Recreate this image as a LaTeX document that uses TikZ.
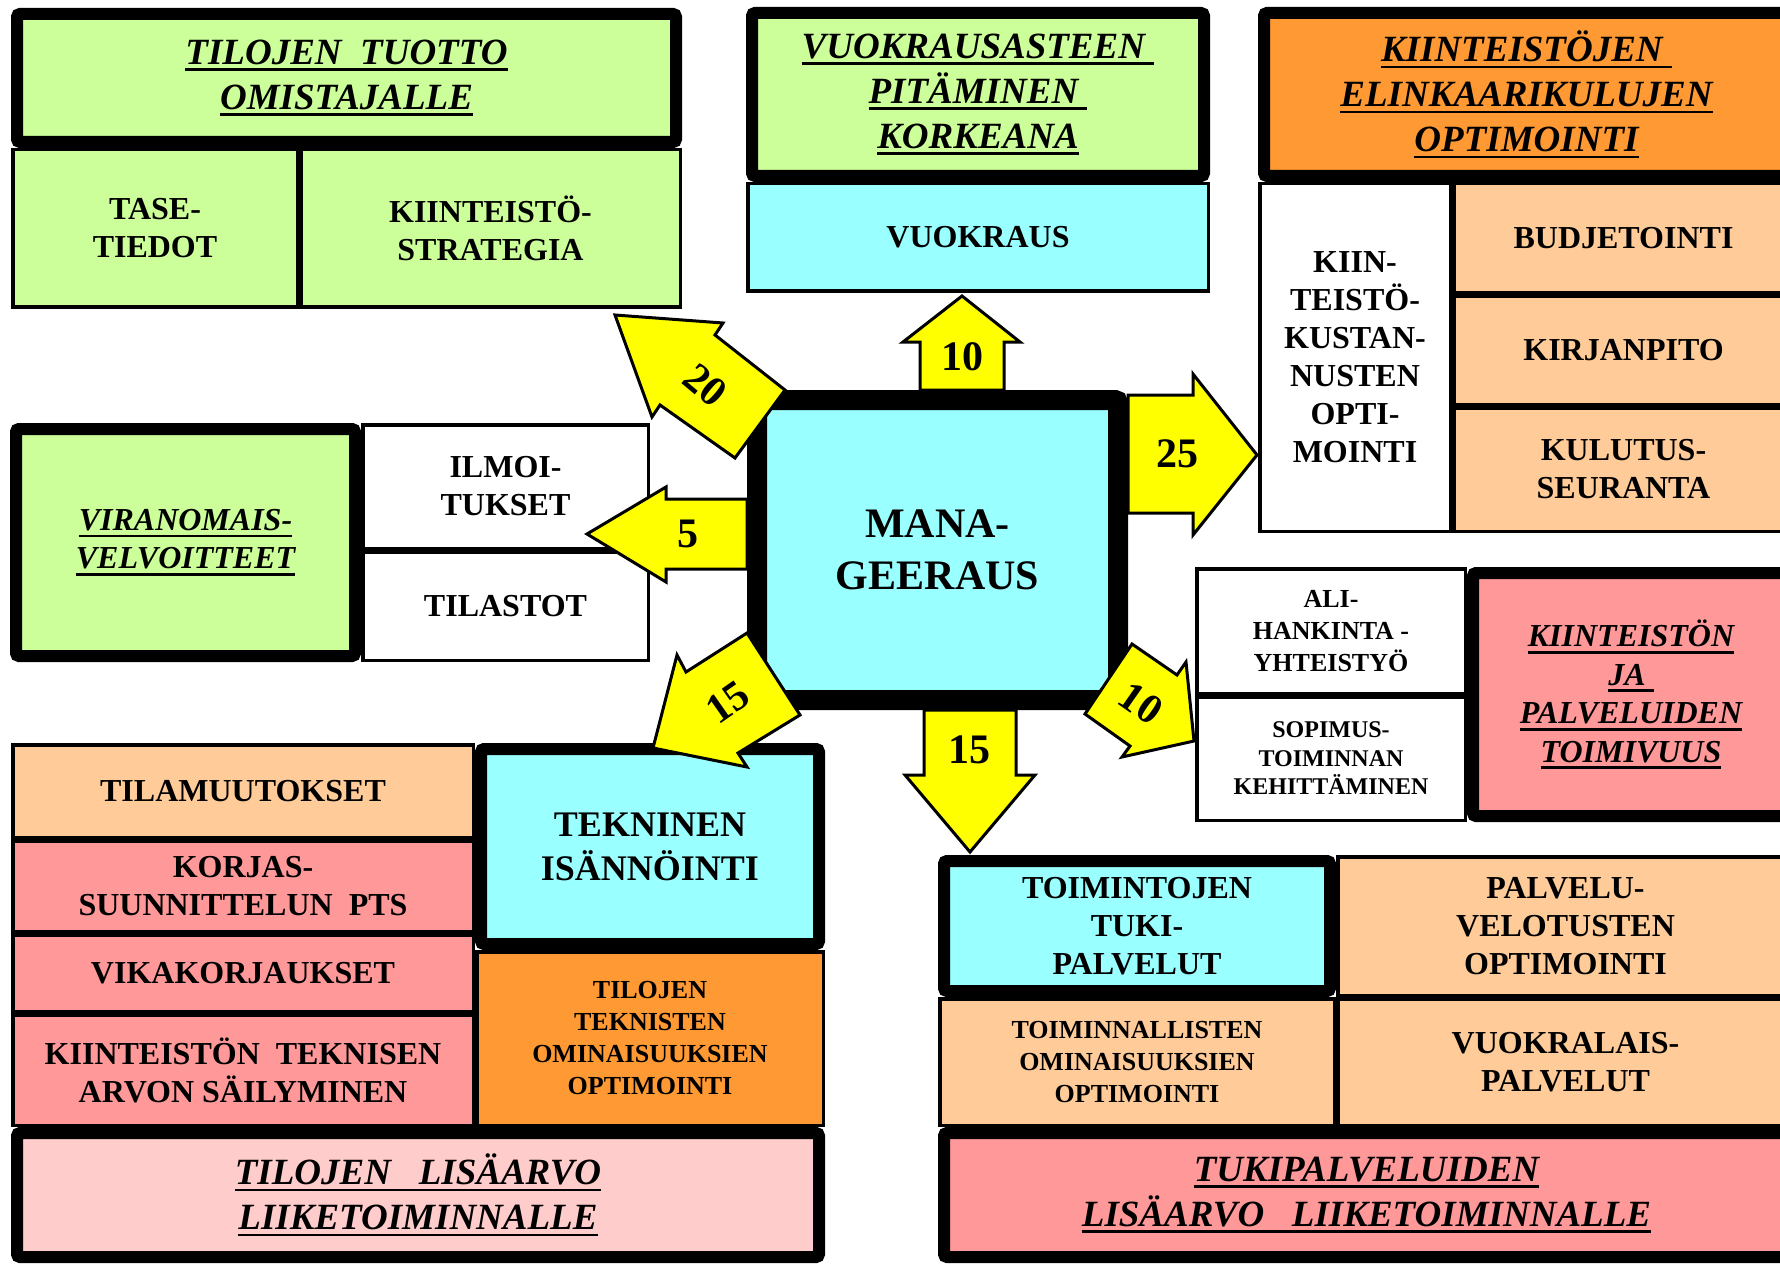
\documentclass[tikz,border=0pt]{standalone}
\usepackage{fontspec}
\setmainfont{Liberation Serif}

% underline drawn as a rule below the baseline
\newcommand\undl[1]{\setbox0\hbox{#1}\makebox[0pt][l]{\rule[-7pt]{\wd0}{2.8pt}}\box0}

\definecolor{cgreen}{HTML}{CCFF99}
\definecolor{ccyan}{HTML}{99FFFF}
\definecolor{corange}{HTML}{FF9933}
\definecolor{cpeach}{HTML}{FFCC99}
\definecolor{cpink}{HTML}{FF9999}
\definecolor{clight}{HTML}{FFCCCC}
\definecolor{cyellow}{HTML}{FFFF00}

% box drawn so that its outer edge (line included) spans (x0,y0)-(x1,y1)
% #1 line width, #2 style, #3 name, #4 x0, #5 y0, #6 x1, #7 y1, #8 text
\newcommand\cell[8]{%
  \node[#2, line width=#1pt, minimum width={#6-#4-#1}, minimum height={#7-#5-#1}]
    (#3) at ({(#4+#6)/2},{(#5+#7)/2}) {#8};}
\newcommand\thin{3.5}
\newcommand\heavy{12}

\tikzset{
  box/.style={draw=black, inner sep=0pt, align=center},
  heavybox/.style={box, rounded corners=3pt},
  fbody/.style={font=\fontsize{32}{38}\selectfont\bfseries},
  fsmall/.style={font=\fontsize{26}{32}\selectfont\bfseries},
  ftiny/.style={font=\fontsize{24}{28.5}\selectfont\bfseries},
  ftitle/.style={font=\fontsize{37}{45}\selectfont\bfseries\itshape},
  fsubtitle/.style={font=\fontsize{32}{38.5}\selectfont\bfseries\itshape},
  blockarrow/.style={fill=cyellow, draw=black, line width=3pt, line join=miter},
  num/.style={inner sep=0pt, font=\fontsize{42}{42}\selectfont\bfseries},
}

\begin{document}
\begin{tikzpicture}[x=1pt,y=-1pt]
\useasboundingbox (0,0) rectangle (1780,1265);
\clip (0,0) rectangle (1780,1265);
\fill[white] (0,0) rectangle (1780,1265);

% --- owner yield (top left)
\cell{\thin}{box,fill=cgreen,fbody}{tase}{11}{148}{299}{309}{TASE-\\TIEDOT}
\cell{\thin}{box,fill=cgreen,fbody}{strat}{299}{148}{682}{309}{KIINTEISTÖ-\\STRATEGIA}
\cell{\heavy}{heavybox,fill=cgreen,ftitle}{tuotto}{11}{8}{682}{148}{\undl{TILOJEN\ \ TUOTTO}\\\undl{OMISTAJALLE}}

% --- occupancy rate (top middle)
\cell{\thin}{box,fill=ccyan,fbody}{vuokraus}{746}{182}{1210}{293}{VUOKRAUS}
\cell{\heavy}{heavybox,fill=cgreen,ftitle}{aste}{746}{7}{1210}{182}{\undl{VUOKRAUSASTEEN\ }\\\undl{PITÄMINEN\ }\\\undl{KORKEANA}}

% --- life-cycle costs (top right)
\cell{\thin}{box,fill=white,fbody}{kustan}{1258}{182}{1452}{533}{KIIN-\\TEISTÖ-\\KUSTAN-\\NUSTEN\\OPTI-\\MOINTI}
\cell{\thin}{box,fill=cpeach,fbody}{budj}{1452}{182}{1795}{295}{BUDJETOINTI}
\cell{\thin}{box,fill=cpeach,fbody}{kirja}{1452}{295}{1795}{406}{KIRJANPITO}
\cell{\thin}{box,fill=cpeach,fbody}{kulutus}{1452}{406}{1795}{533}{KULUTUS-\\SEURANTA}
\cell{\heavy}{heavybox,fill=corange,ftitle}{elinkaari}{1258}{7}{1795}{182}{\undl{KIINTEISTÖJEN\ }\\\undl{ELINKAARIKULUJEN}\\\undl{OPTIMOINTI}}

% --- authority obligations (middle left)
\cell{\thin}{box,fill=white,fbody}{ilmoi}{361}{423}{650}{550}{ILMOI-\\TUKSET}
\cell{\thin}{box,fill=white,fbody}{tilastot}{361}{550}{650}{662}{TILASTOT}
\cell{\heavy}{heavybox,fill=cgreen,fsubtitle}{viran}{10}{423}{361}{662}{\undl{VIRANOMAIS-}\\\undl{VELVOITTEET}}

% --- property and service functionality (middle right)
\cell{\thin}{box,fill=white,fsmall}{ali}{1195}{567}{1467}{695}{ALI-\\HANKINTA -\\YHTEISTYÖ}
\cell{\thin}{box,fill=white,ftiny}{sopimus}{1195}{695}{1467}{822}{SOPIMUS-\\TOIMINNAN\\KEHITTÄMINEN}
\cell{\heavy}{heavybox,fill=cpink,fsubtitle}{toimivuus}{1467}{567}{1795}{822}{\undl{KIINTEISTÖN}\\\undl{JA\ }\\\undl{PALVELUIDEN}\\\undl{TOIMIVUUS}}

% --- technical management (bottom left)
\cell{\thin}{box,fill=cpeach,fbody}{tilamuut}{11}{743}{475}{839}{TILAMUUTOKSET}
\cell{\thin}{box,fill=cpink,fbody}{korjas}{11}{839}{475}{933}{KORJAS-\\SUUNNITTELUN\ \ PTS}
\cell{\thin}{box,fill=cpink,fbody}{vika}{11}{933}{475}{1013}{VIKAKORJAUKSET}
\cell{\thin}{box,fill=cpink,fbody}{arvo}{11}{1013}{475}{1127}{KIINTEISTÖN\ \ TEKNISEN\\ARVON SÄILYMINEN}
\cell{\thin}{box,fill=corange,fsmall}{teknop}{475}{950}{825}{1127}{TILOJEN\\TEKNISTEN\\OMINAISUUKSIEN\\OPTIMOINTI}
\cell{\heavy}{heavybox,fill=ccyan,font=\fontsize{36}{44}\selectfont\bfseries}{tekninen}{475}{743}{825}{950}{TEKNINEN\\ISÄNNÖINTI}
\cell{\heavy}{heavybox,fill=clight,ftitle}{lisaarvo}{11}{1127}{825}{1263}{\undl{TILOJEN\ \ \ LISÄARVO}\\\undl{LIIKETOIMINNALLE}}

% --- support services (bottom right)
\cell{\thin}{box,fill=cpeach,fbody}{velotus}{1336}{855}{1795}{997}{PALVELU-\\VELOTUSTEN\\OPTIMOINTI}
\cell{\thin}{box,fill=cpeach,fsmall}{toiminn}{938}{997}{1336}{1127}{TOIMINNALLISTEN\\OMINAISUUKSIEN\\OPTIMOINTI}
\cell{\thin}{box,fill=cpeach,fbody}{vuokralais}{1336}{997}{1795}{1127}{VUOKRALAIS-\\PALVELUT}
\cell{\heavy}{heavybox,fill=ccyan,fbody}{tukipalv}{938}{855}{1336}{997}{TOIMINTOJEN\\TUKI-\\PALVELUT}
\cell{\heavy}{heavybox,fill=cpink,ftitle}{tukilisa}{938}{1127}{1795}{1263}{\undl{TUKIPALVELUIDEN}\\\undl{LISÄARVO\ \ \ LIIKETOIMINNALLE}}

% --- central management box
\cell{20}{heavybox,fill=ccyan,font=\fontsize{42}{52}\selectfont\bfseries}{mana}{747}{390}{1128}{710}{MANA-\\GEERAUS}

% --- block arrows with their shares
\draw[blockarrow] (920,390) -- (920,342) -- (903,342) -- (962,296) -- (1020,342) -- (1004,342) -- (1004,390) -- cycle;
\node[num] (p10up) at (962,357) {10};

\draw[blockarrow] (1128,395) -- (1193,395) -- (1193,374) -- (1257,455) -- (1193,535) -- (1193,513) -- (1128,513) -- cycle;
\node[num] (p25) at (1177,454) {25};

\draw[blockarrow] (747,499) -- (666,499) -- (666,487) -- (587,534) -- (666,582) -- (666,569) -- (747,569) -- cycle;
\node[num] (p5) at (688,534) {5};

\draw[blockarrow] (924,710) -- (924,775) -- (905,775) -- (970,852) -- (1035,775) -- (1016,775) -- (1016,710) -- cycle;
\node[num] (p15down) at (969,750) {15};

\draw[blockarrow] (785,390) -- (715,335) -- (723,323) -- (615,315) -- (652,417) -- (660,405) -- (735,458) -- cycle;
\node[num, rotate=-40] (p20) at (705,385) {20};

\draw[blockarrow] (747,633) -- (686,672) -- (677,655) -- (653,748) -- (747,767) -- (738,753) -- (800,715) -- cycle;
\node[num, rotate=35] (p15) at (728,702) {15};

\draw[blockarrow] (1132,644) -- (1177,675) -- (1186,662) -- (1194,741) -- (1122,757) -- (1130,746) -- (1085,714) -- cycle;
\node[num, rotate=-35] (p10) at (1141,703) {10};
\end{tikzpicture}
\end{document}
